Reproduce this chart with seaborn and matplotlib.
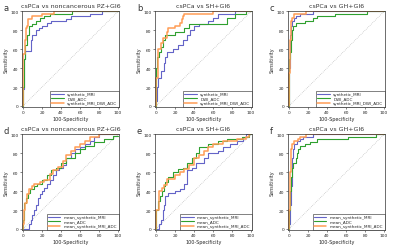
import matplotlib
matplotlib.use("Agg")
import matplotlib.pyplot as plt
import seaborn as sns

sns.set_theme(style="ticks")
plt.rcParams["font.family"] = ["DejaVu Sans"]

# ROC curves, knots for steps-pre drawing: (100-Specificity, Sensitivity)
titles = ["csPCa vs noncancerous PZ+GI6", "csPCa vs SH+GI6", "csPCa vs GH+GI6",
          "csPCa vs noncancerous PZ+GI6", "csPCa vs SH+GI6", "csPCa vs GH+GI6"]
letters = ["a", "b", "c", "d", "e", "f"]
labels_top = ["synthetic_MRI", "DWI_ADC", "synthetic_MRI_DWI_ADC"]
labels_bottom = ["mean_synthetic_MRI", "mean_ADC", "mean_synthetic_MRI_ADC"]

# panel a
a_syn_x = [0, 1, 2, 8, 10, 14, 17, 20, 25, 30, 45, 50, 70, 83, 100]
a_syn_y = [0, 18, 50, 58, 70, 75, 80, 83, 85, 88, 90, 92, 95, 97, 100]
a_dwi_x = [0, 1, 2, 4, 6, 10, 14, 18, 22, 28, 52, 100]
a_dwi_y = [0, 20, 50, 65, 75, 85, 87, 90, 93, 95, 97, 100]
a_comb_x = [0, 2, 3, 4, 5, 10, 20, 33, 100]
a_comb_y = [0, 55, 70, 82, 85, 92, 95, 97, 100]
# panel b
b_syn_x = [0, 1, 2, 5, 8, 10, 12, 18, 23, 28, 33, 36, 40, 45, 55, 60, 65, 83, 100]
b_syn_y = [0, 5, 20, 30, 37, 45, 52, 57, 60, 65, 70, 75, 80, 85, 87, 90, 93, 97, 100]
b_dwi_x = [0, 1, 3, 5, 7, 10, 20, 30, 35, 75, 83, 95, 100]
b_dwi_y = [0, 40, 52, 57, 62, 70, 75, 78, 83, 87, 93, 97, 100]
b_comb_x = [0, 2, 5, 7, 12, 13, 20, 25, 27, 28, 30, 60, 100]
b_comb_y = [0, 30, 60, 67, 72, 78, 82, 85, 88, 92, 95, 97, 100]
# panel c
c_syn_x = [0, 1, 2, 3, 5, 7, 12, 25, 100]
c_syn_y = [0, 40, 75, 85, 90, 93, 95, 97, 100]
c_dwi_x = [0, 1, 2, 3, 4, 7, 17, 25, 30, 48, 82, 100]
c_dwi_y = [0, 50, 57, 70, 80, 85, 88, 90, 93, 95, 97, 100]
c_comb_x = [0, 1, 2, 3, 5, 18, 100]
c_comb_y = [0, 35, 70, 90, 93, 97, 100]
# panel d
d_syn_x = [0, 6, 8, 10, 12, 14, 16, 18, 20, 22, 25, 28, 32, 35, 38, 42, 45, 50, 55, 60, 65, 70, 75, 80, 100]
d_syn_y = [0, 0, 5, 10, 15, 20, 25, 33, 37, 40, 43, 48, 52, 57, 62, 65, 68, 75, 80, 85, 87, 90, 93, 97, 100]
d_adc_x = [0, 1, 3, 5, 7, 12, 15, 20, 25, 30, 35, 40, 45, 55, 60, 65, 75, 85, 95, 100]
d_adc_y = [0, 10, 28, 33, 38, 42, 45, 48, 52, 57, 62, 65, 70, 75, 80, 85, 88, 92, 95, 98]
d_comb_x = [0, 1, 2, 4, 6, 10, 12, 18, 22, 28, 32, 37, 42, 45, 50, 55, 60, 65, 70, 80, 100]
d_comb_y = [0, 5, 20, 27, 37, 42, 45, 48, 50, 52, 58, 62, 66, 72, 78, 82, 87, 90, 93, 97, 100]
# panel e
e_syn_x = [0, 3, 5, 7, 8, 10, 13, 20, 25, 30, 33, 38, 42, 50, 55, 65, 70, 78, 85, 92, 95, 100]
e_syn_y = [0, 0, 5, 10, 20, 25, 35, 38, 40, 42, 48, 62, 65, 70, 75, 80, 83, 87, 90, 93, 97, 100]
e_adc_x = [0, 2, 4, 6, 8, 10, 13, 18, 23, 28, 33, 38, 42, 45, 55, 65, 75, 90, 98, 100]
e_adc_y = [0, 20, 30, 35, 40, 45, 50, 55, 60, 63, 65, 70, 75, 80, 87, 90, 93, 95, 97, 100]
e_comb_x = [0, 3, 6, 8, 12, 20, 25, 30, 35, 40, 45, 50, 55, 60, 70, 85, 95, 98, 100]
e_comb_y = [0, 20, 40, 43, 47, 53, 57, 60, 63, 68, 75, 78, 83, 87, 90, 93, 95, 97, 100]
# panel f
f_syn_x = [0, 1, 2, 3, 4, 5, 8, 12, 15, 25, 100]
f_syn_y = [0, 5, 25, 45, 75, 85, 90, 93, 95, 97, 100]
f_adc_x = [0, 1, 2, 3, 4, 7, 8, 9, 12, 17, 22, 30, 62, 92, 100]
f_adc_y = [0, 20, 40, 55, 65, 70, 75, 80, 85, 88, 90, 92, 95, 97, 100]
f_comb_x = [0, 1, 2, 3, 5, 10, 12, 18, 100]
f_comb_y = [0, 20, 60, 85, 90, 93, 95, 97, 100]

panels = [
    [(a_syn_x, a_syn_y), (a_dwi_x, a_dwi_y), (a_comb_x, a_comb_y)],
    [(b_syn_x, b_syn_y), (b_dwi_x, b_dwi_y), (b_comb_x, b_comb_y)],
    [(c_syn_x, c_syn_y), (c_dwi_x, c_dwi_y), (c_comb_x, c_comb_y)],
    [(d_syn_x, d_syn_y), (d_adc_x, d_adc_y), (d_comb_x, d_comb_y)],
    [(e_syn_x, e_syn_y), (e_adc_x, e_adc_y), (e_comb_x, e_comb_y)],
    [(f_syn_x, f_syn_y), (f_adc_x, f_adc_y), (f_comb_x, f_comb_y)],
]

colors = ["#6464c8", "#2fa02f", "#ff9d55"]
widths = [0.8, 0.8, 1.1]

fig = plt.figure(figsize=(4, 2.51), dpi=100)
lefts = [0.055, 0.3875, 0.72]
bottoms = [0.570, 0.080]
# panel letter positions (figure fraction)
letter_x = [0.008, 0.342, 0.675]
letter_y = [0.955, 0.465]

for i in range(6):
    ax = fig.add_axes([lefts[i % 3], bottoms[i // 3], 0.2425, 0.384])
    labels = labels_top if i < 3 else labels_bottom
    ax.plot([0, 100], [0, 100], color="#b0b0b0", lw=0.5, ls=":")
    for (xs, ys), lab, c, w in zip(panels[i], labels, colors, widths):
        sns.lineplot(x=xs, y=ys, ax=ax, color=c, lw=w, label=lab,
                     drawstyle="steps-pre", sort=False, estimator=None)
    ax.set_xlim(-1, 101)
    ax.set_ylim(-1, 101)
    ax.set_xticks(range(0, 101, 20))
    ax.set_yticks(range(0, 101, 20))
    ax.tick_params(labelsize=3.2, length=1.5, width=0.4, pad=1)
    for s in ax.spines.values():
        s.set_linewidth(0.5)
        s.set_color("#333333")
    ax.set_xlabel("100-Specificity", fontsize=3.5, labelpad=1)
    ax.set_ylabel("Sensitivity", fontsize=3.5, labelpad=1)
    ax.set_title(titles[i], fontsize=4.5, pad=2.5, color="#333333")
    fig.text(letter_x[i % 3], letter_y[i // 3], letters[i], fontsize=6,
             color="#333333")
    leg = ax.legend(loc="lower right", fontsize=3, frameon=True, fancybox=False,
                    handlelength=3, borderpad=0.3, labelspacing=0.1,
                    borderaxespad=0.1)
    leg.get_frame().set_edgecolor("#222222")
    leg.get_frame().set_linewidth(0.5)

fig.savefig("out.png", dpi=100)
